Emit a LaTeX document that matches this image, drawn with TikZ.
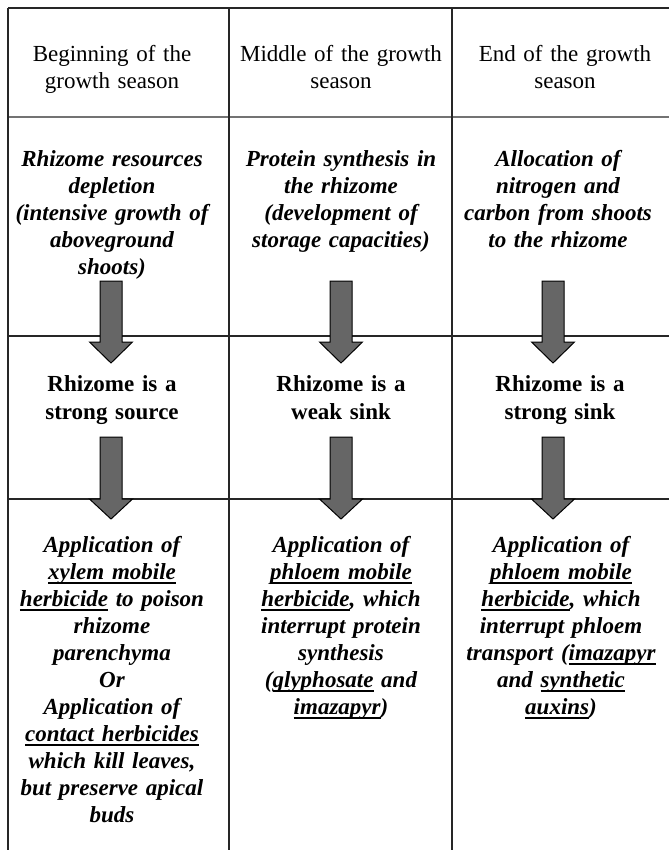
\documentclass[tikz,border=0pt]{standalone}
\usepackage{fontspec}
\setmainfont{Liberation Serif}
\newcommand{\undl}[1]{{\setbox0=\hbox{#1}\leavevmode\rlap{\rule[-4.5pt]{\wd0}{1.6pt}}\box0}}
\newcommand{\bArrow}[4]{%
  \filldraw[blockarrow] (#1-11,#2) -- (#1+11,#2) -- (#1+11,#3) -- (#1+21.5,#3)
    -- (#1,#4) -- (#1-21.5,#3) -- (#1-11,#3) -- cycle;}
\tikzset{
  gridline/.style={line width=1.2pt, draw=black!85},
  hdrline/.style={line width=2.2pt, draw=black!55},
  blockarrow/.style={fill=black!60, draw=black, line width=1pt},
  cell/.style={align=center, anchor=base, text width=220pt, inner sep=0pt},
  hdr/.style={cell, font=\fontsize{23}{27}\selectfont},
  cause/.style={cell, font=\fontsize{23}{27}\selectfont\bfseries\itshape},
  state/.style={cell, font=\fontsize{23}{28}\selectfont\bfseries},
  action/.style={cell, font=\fontsize{23}{27}\selectfont\bfseries\itshape}
}
\begin{document}
\begin{tikzpicture}[x=1pt,y=-1pt]
\useasboundingbox (0,0) rectangle (669,850);
% grid
\draw[gridline] (8,8) -- (669,8);
\draw[hdrline] (8,117) -- (669,117);
\draw[gridline] (8,336) -- (669,336);
\draw[gridline] (8,499) -- (669,499);
\draw[gridline] (8,8) -- (8,850);
\draw[gridline] (229,8) -- (229,850);
\draw[gridline] (452,8) -- (452,850);
% headers
\node[hdr] (h1) at (112,62) {Beginning of the\\growth season};
\node[hdr] (h2) at (341,62) {Middle of the growth\\season};
\node[hdr] (h3) at (565,62) {End of the growth\\season};
% causes
\node[cause] (c1) at (112,167) {Rhizome resources\\depletion\\(intensive growth of\\aboveground\\shoots)};
\node[cause] (c2) at (341,167) {Protein synthesis in\\the rhizome\\(development of\\storage capacities)};
\node[cause] (c3) at (558,167) {Allocation of\\nitrogen and\\carbon from shoots\\to the rhizome};
% states
\node[state] (s1) at (112,391) {Rhizome is a\\strong source};
\node[state] (s2) at (341,391) {Rhizome is a\\weak sink};
\node[state] (s3) at (560,391) {Rhizome is a\\strong sink};
% actions
\node[action] (a1) at (112,552) {Application of\\\undl{xylem mobile}\\\undl{herbicide} to poison\\rhizome\\parenchyma\\Or\\Application of\\\undl{contact herbicides}\\which kill leaves,\\but preserve apical\\buds};
\node[action] (a2) at (341,552) {Application of\\\undl{phloem mobile}\\\undl{herbicide}, which\\interrupt protein\\synthesis\\(\undl{glyphosate} and\\\undl{imazapyr})};
\node[action] (a3) at (561,552) {Application of\\\undl{phloem mobile}\\\undl{herbicide}, which\\interrupt phloem\\transport (\undl{imazapyr}\\and \undl{synthetic}\\\undl{auxins})};
% arrows
\bArrow{111}{281}{342}{363}
\bArrow{341}{281}{342}{363}
\bArrow{553}{281}{342}{363}
\bArrow{111}{437}{499}{519}
\bArrow{341}{437}{499}{519}
\bArrow{553}{437}{499}{519}
\end{tikzpicture}
\end{document}
